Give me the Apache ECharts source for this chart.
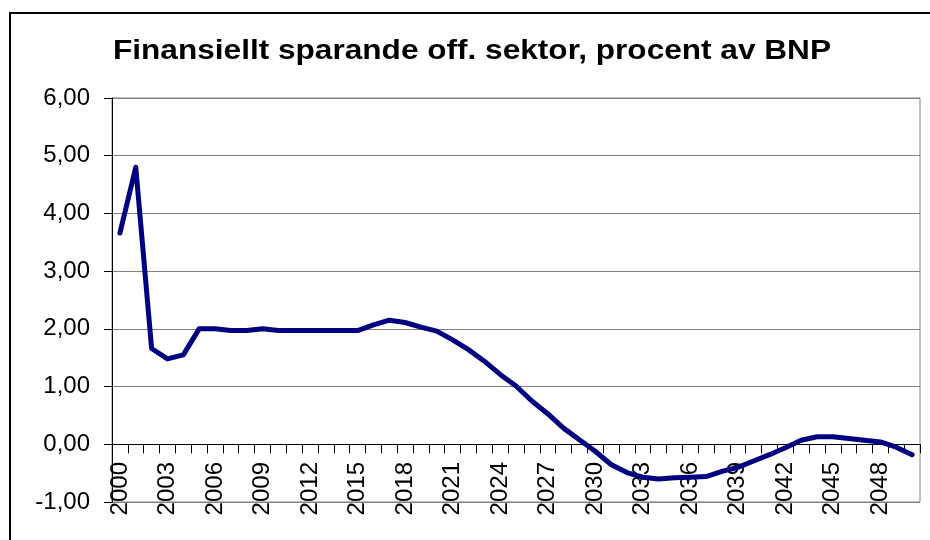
<!DOCTYPE html>
<html>
<head>
<meta charset="utf-8">
<script src="https://cdn.jsdelivr.net/npm/echarts@6/dist/echarts.min.js"></script>
<style>
  html, body { margin: 0; padding: 0; background: #fff; }
  #chart { width: 930px; height: 540px; }
</style>
</head>
<body>
<div id="chart"></div>
<script>
// years 2000..2050
const years = []
for (let y = 2000; y <= 2050; y++) years.push(String(y))

// finansiellt sparande, procent av BNP
const saving = [
    3.66, 4.80, 1.66, 1.48, 1.55, 2.00, 2.00, 1.97, 1.97, 2.00,
    1.97, 1.97, 1.97, 1.97, 1.97, 1.97, 2.07, 2.15, 2.11, 2.03,
    1.96, 1.81, 1.64, 1.44, 1.21, 1.01, 0.75, 0.53, 0.28, 0.08,
    -0.12, -0.35, -0.49, -0.57, -0.60, -0.58, -0.57, -0.56, -0.47, -0.40,
    -0.29, -0.18, -0.06, 0.07, 0.13, 0.13, 0.10, 0.07, 0.04, -0.05,
    -0.18
]

const titleText = 'Finansiellt sparande off. sektor, procent av BNP'
const font = '"Liberation Sans", Arial, sans-serif'

const chart = echarts.init(document.getElementById('chart'))

const option = {
    animation: false,
    backgroundColor: '#fff',
    graphic: [
        {
            type: 'rect',
            shape: { x: 10, y: 13, width: 1000, height: 1000 },
            style: { fill: 'none', stroke: '#000', lineWidth: 2 },
            silent: true
        },
        {
            // title, the original is a bit wider than Arial bold
            type: 'text',
            x: 113,
            y: 38,
            scaleX: 1.17,
            style: {
                text: titleText,
                font: 'bold 27px ' + font,
                fill: '#000',
                textVerticalAlign: 'top'
            },
            silent: true
        }
    ],
    grid: {
        left: 112, top: 98, right: 10, bottom: 38,
        outerBoundsMode: 'none',
        containLabel: false,
        show: true, borderColor: '#808080', borderWidth: 1
    },
    xAxis: {
        type: 'category',
        data: years,
        boundaryGap: true,
        axisLine: { onZero: true, lineStyle: { color: '#000', width: 1 } },
        axisTick: { show: true, interval: 0, length: 9, inside: false, lineStyle: { color: '#000' } },
        axisLabel: {
            interval: 2,
            rotate: 90,
            // labels stay at the grid bottom, pull them up under the zero line
            margin: -40,
            fontFamily: font,
            fontSize: 24,
            color: '#000'
        },
        splitLine: { show: false }
    },
    yAxis: {
        type: 'value',
        min: -1,
        max: 6,
        interval: 1,
        axisLine: { show: true, lineStyle: { color: '#000', width: 1 } },
        axisTick: { show: true, length: 8, lineStyle: { color: '#000' } },
        axisLabel: {
            margin: 22,
            fontFamily: font,
            fontSize: 24,
            color: '#000',
            formatter: v => v.toFixed(2).replace('.', ',')
        },
        splitLine: { show: true, lineStyle: { color: '#808080', width: 1 } }
    },
    series: [
        {
            name: 'Finansiellt sparande',
            type: 'line',
            data: saving,
            showSymbol: false,
            symbol: 'none',
            lineStyle: { color: '#000080', width: 5, cap: 'round', join: 'round' },
            z: 5
        }
    ]
}

chart.setOption(option)
</script>
</body>
</html>
